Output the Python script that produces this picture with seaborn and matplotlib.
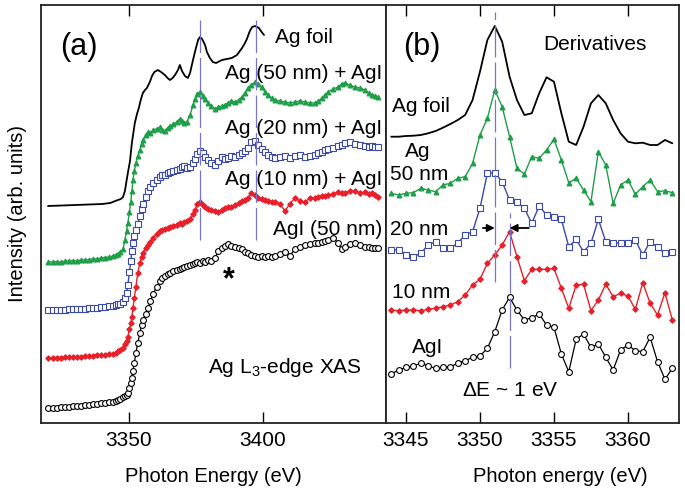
import matplotlib
matplotlib.use('Agg')
import matplotlib.pyplot as plt
import seaborn as sns

# ---------------- panel (a): Ag L3-edge XAS ----------------
# shared energy grid of the scanned samples (eV)
e_a = [3319.8, 3321.5, 3323.0, 3324.5, 3326.0, 3327.5, 3329.0, 3330.5, 3332.0, 3333.5,
       3335.0, 3336.5, 3338.0, 3339.5, 3341.0, 3342.5, 3344.0, 3345.0, 3345.9, 3346.8,
       3347.8, 3348.5, 3349.1, 3349.6, 3350.2, 3350.7, 3351.1, 3351.5, 3352.0, 3352.6,
       3353.3, 3354.1, 3354.7, 3355.2, 3356.2, 3357.1, 3358.0, 3359.0, 3360.3, 3361.6,
       3362.5, 3363.4, 3364.4, 3365.3, 3366.6, 3367.9, 3368.9, 3369.8, 3370.7, 3371.6,
       3372.8, 3373.9, 3374.7, 3375.4, 3376.5, 3377.6, 3378.5, 3379.5, 3380.8, 3382.1,
       3383.4, 3384.7, 3385.8, 3386.9, 3388.2, 3389.6, 3390.9, 3392.2, 3393.3, 3394.4,
       3395.7, 3397.0, 3398.3, 3399.6, 3400.7, 3401.9, 3403.2, 3404.5, 3406.3, 3408.2,
       3410.0, 3411.9, 3413.8, 3415.7, 3417.5, 3419.4, 3420.7, 3422.0, 3423.1, 3424.3,
       3426.2, 3428.0, 3429.3, 3430.6, 3432.4, 3434.3, 3436.2, 3438.1, 3439.4, 3440.7,
       3441.8, 3442.9]

ag50 = [161, 161, 161.5, 161, 162, 162, 162.5, 162, 163, 163,
        163.5, 164, 164, 165, 165.5, 166, 167, 168, 169, 171,
        174, 183, 192, 200, 211, 221, 232, 243, 252, 260,
        267, 273, 279, 283, 288, 291, 290, 293, 294, 296,
        293, 292, 295, 297, 299, 301, 304, 302, 300, 301,
        308, 318, 324, 329, 331, 327, 324, 320, 317, 314,
        316, 317, 318, 320, 322, 321, 323, 326, 330, 335,
        338, 341, 339, 336, 331, 328, 325, 323, 322, 321,
        320, 321, 322, 321, 320, 320, 322, 325, 328, 331,
        334, 336, 339, 340, 338, 336, 335, 333, 330, 328,
        327, 326]

ag20 = [113, 113, 113, 113.5, 113.5, 114, 114, 114, 114.5, 114.5,
        115, 115, 115.5, 116, 116.5, 117, 117, 118, 119, 119.5,
        121, 125, 130, 138, 151, 162, 172, 180, 187, 193,
        199, 207, 214, 219, 226, 232, 236, 240, 243, 246,
        248, 248, 250, 251, 252, 253, 254, 256, 257, 255,
        256, 260, 264, 269, 272, 270, 266, 263, 260, 258,
        262, 266, 264, 265, 267, 266, 268, 270, 272, 275,
        281, 282, 278, 274, 271, 268, 266, 265, 266, 267,
        265, 267, 268, 266, 267, 268, 270, 271, 273, 274,
        275, 277, 278, 280, 281, 279, 278, 277, 276, 277,
        276, 276]

ag10 = [65, 65, 65.5, 65.5, 66, 66, 66, 66.5, 66.5, 67,
        67, 67.5, 68, 68, 68.5, 69, 69.5, 70.5, 72, 73,
        75, 79, 82, 86, 94, 100, 106, 115, 125, 136,
        150, 160, 166, 170, 175, 178, 181, 185, 189, 192,
        193, 194, 195, 196, 197, 198, 200, 199, 201, 202,
        204, 209, 213, 219, 221, 218, 216, 214, 213, 212,
        211, 213, 215, 216, 216, 218, 220, 222, 223, 225,
        230, 228, 225, 224, 223, 222, 221, 221, 219, 212,
        219, 225, 222, 221, 225, 225, 226, 227, 227, 228,
        229, 231, 230, 230, 232, 232, 230, 231, 229, 230,
        228, 226]

agi = [15, 15, 15.5, 16, 16, 16.5, 17, 17, 17.5, 18,
       18.5, 19, 19.5, 20, 20.5, 21, 21.5, 22, 23, 24,
       26, 27, 28, 30, 35, 40, 45, 52, 60, 70,
       80, 90, 98, 103, 109, 115, 122, 129, 136, 142,
       145, 147, 149, 150, 152, 153, 154, 155, 156, 157,
       158, 159, 160, 161, 160, 162, 161, 163, 162, 165,
       172, 175, 177, 179, 177, 176, 175, 174, 171, 170,
       168, 167, 166, 167, 166, 167, 166, 167, 169, 171,
       167, 174, 176, 178, 179, 180, 180, 181, 182, 183,
       185, 180, 174, 176, 179, 180, 178, 176, 176, 175,
       175, 175]

e_foil = [3319.8, 3325.0, 3330.0, 3335.0, 3340.0, 3343.0, 3345.9, 3347.0, 3347.8, 3348.5,
          3349.1, 3349.6, 3350.4, 3351.1, 3352.2, 3353.0, 3353.7, 3354.4, 3355.2, 3356.0,
          3356.7, 3357.8, 3358.6, 3359.5, 3360.8, 3362.0, 3363.4, 3364.4, 3365.3, 3366.3,
          3367.2, 3368.3, 3369.0, 3369.8, 3370.9, 3372.0, 3372.8, 3373.9, 3375.0, 3375.8,
          3376.5, 3377.3, 3378.4, 3379.1, 3380.2, 3381.3, 3382.5, 3384.7, 3386.5, 3388.4,
          3390.3, 3392.2, 3393.3, 3394.0, 3395.1, 3396.0, 3397.0, 3397.8, 3398.5, 3399.5,
          3400.4]
foil_a = [217, 217.5, 218, 218.5, 219, 220, 223, 224, 226, 232,
          242, 250, 262, 280, 300, 309, 315, 323, 330, 333,
          335, 341, 347, 351, 353, 351, 348, 345, 343, 345,
          348, 353, 358, 352, 347, 345, 350, 363, 375, 383,
          386, 384, 378, 371, 365, 361, 360, 363, 364, 365,
          368, 375, 380, 384, 392, 396, 397, 396, 395, 391,
          388]

# ---------------- panel (b): derivatives ----------------
e_b = [3344.0, 3344.5, 3345.0, 3345.5, 3346.0, 3346.5, 3347.0, 3347.5, 3348.0, 3348.5,
       3349.0, 3349.5, 3350.0, 3350.5, 3351.0, 3351.5, 3352.0, 3352.5, 3353.0, 3353.5,
       3354.0, 3354.5, 3355.0, 3355.5, 3356.0, 3356.5, 3357.0, 3357.5, 3358.0, 3358.5,
       3359.0, 3359.5, 3360.0, 3360.5, 3361.0, 3361.5, 3362.0, 3362.5, 3363.0]

d_foil = [286.3, 286.3, 287, 287.3, 288, 289.7, 292, 295.3, 299, 303,
          308, 323, 351.3, 383, 397, 381.3, 346.3, 323, 308, 309.7,
          329.7, 345.7, 341.3, 309.7, 281.3, 278, 296.3, 319.7, 328, 319.7,
          303, 289.7, 281.3, 279.7, 280.3, 278, 278, 283, 279.7]
d_ag50 = [229.7, 228, 229.7, 230.3, 234.7, 233, 231.3, 238, 239.7, 244.7,
          246.3, 259.7, 288, 304.7, 333, 316.3, 286.3, 254.7, 249, 266.3,
          264.7, 273, 283.7, 263, 240.3, 244.7, 233, 221.3, 271.3, 258,
          219.7, 238, 243, 228.7, 236.3, 243, 231.3, 232.3, 230.3]
d_ag20 = [173, 173, 168, 166.3, 169.7, 178, 181.3, 175, 174.7, 180,
          188, 191.3, 214.7, 249.7, 250.3, 241.3, 223, 221.3, 214.7, 199.7,
          217, 208, 206.3, 203.7, 176.3, 183.7, 171.3, 179.7, 203.7, 181.3,
          180.3, 179.7, 180.3, 183, 168, 181.3, 175.7, 169.7, 171.3]
d_ag10 = [113, 112.3, 113, 113, 112.3, 113.7, 114.7, 116.3, 118, 121.3,
          128, 138, 143.7, 159.7, 168, 178, 191.3, 166.3, 142.3, 153.7,
          153.7, 153.7, 154.7, 134.7, 114.7, 138, 138.7, 112.3, 123, 138.7,
          126.3, 129.7, 127, 113.7, 140.3, 119.7, 108, 130.3, 103]
d_agi = [49, 53, 55.7, 57, 59.7, 57, 54.7, 55.7, 56.3, 59.7,
         62.3, 65.7, 67, 74.7, 91.3, 113, 125.7, 113, 103, 105.3,
         109, 98, 95.7, 69, 51.3, 83.7, 89, 75.7, 79, 65.7,
         53, 73, 78, 72.3, 71.3, 85.7, 61.3, 43.7, 54.7]

# peak positions marked with dashed lines
peaks_a = [3376.7, 3397.3]
peaks_b = [3351.0, 3352.0]

GREEN = '#1f9e48'
BLUE = '#3a4aa6'
RED = '#e8202a'
VLINE = '#7a74c8'

sns.set_theme(style='white')
plt.rcParams['font.family'] = ['Liberation Sans', 'DejaVu Sans']
plt.rcParams['mathtext.fontset'] = 'custom'
plt.rcParams['mathtext.rm'] = 'Liberation Sans'
plt.rcParams['mathtext.it'] = 'Liberation Sans:italic'
plt.rcParams['text.color'] = 'black'
plt.rcParams['axes.labelcolor'] = 'black'

fig = plt.figure(figsize=(6.85, 4.94), dpi=100)
ax_a = fig.add_axes([41 / 685, 71 / 494, 345 / 685, 418 / 494])
ax_b = fig.add_axes([386 / 685, 71 / 494, 293 / 685, 418 / 494])


def draw(ax, x, y, color, marker=None, ms=4, face=None, lw=1.0):
    kw = dict(x=x, y=y, ax=ax, color=color, linewidth=lw, legend=False)
    if marker:
        kw.update(marker=marker, markersize=ms, markeredgecolor=color,
                  markerfacecolor=face if face else color, markeredgewidth=0.8)
    sns.lineplot(**kw)


# panel (a)
draw(ax_a, e_foil, foil_a, 'black', lw=1.3)
draw(ax_a, e_a, ag50, GREEN, marker='^', ms=3.5)
draw(ax_a, e_a, ag20, BLUE, marker='s', ms=4, face='white')
draw(ax_a, e_a, ag10, RED, marker='D', ms=2.8)
draw(ax_a, e_a, agi, 'black', marker='o', ms=4.2, face='white', lw=0.9)
ax_a.vlines(peaks_a, 183, 406, colors=VLINE, linewidth=0.9, linestyles=(0, (26, 4)))

# panel (b)
draw(ax_b, e_b, d_foil, 'black', lw=1.3)
draw(ax_b, e_b, d_ag50, GREEN, marker='^', ms=3.5)
draw(ax_b, e_b, d_ag20, BLUE, marker='s', ms=4, face='white')
draw(ax_b, e_b, d_ag10, RED, marker='D', ms=2.8)
draw(ax_b, e_b, d_agi, 'black', marker='o', ms=4.2, face='white', lw=0.9)
ax_b.vlines(peaks_b[0], 141, 411, colors=VLINE, linewidth=0.9, linestyles=(0, (26, 4)))
ax_b.vlines(peaks_b[1], 55, 210, colors=VLINE, linewidth=0.9, linestyles=(0, (26, 4)))
arrow = dict(arrowstyle='-|>', color='black', lw=1.3, mutation_scale=11, shrinkA=0, shrinkB=0)
ax_b.annotate('', xy=(peaks_b[0], 195), xytext=(3350.2, 195), arrowprops=arrow)
ax_b.annotate('', xy=(peaks_b[1], 195), xytext=(3353.3, 195), arrowprops=arrow)

# texts panel (a)
fs = 15
ax_a.text(3324.3, 376, '(a)', fontsize=22, ha='left', va='center')
ax_a.text(3404.5, 380, 'Ag foil', fontsize=fs, ha='left', va='baseline')
ax_a.text(3444.4, 344, 'Ag (50 nm) + AgI', fontsize=fs, ha='right', va='baseline')
ax_a.text(3444.4, 289, 'Ag (20 nm) + AgI', fontsize=fs, ha='right', va='baseline')
ax_a.text(3444.4, 238, 'Ag (10 nm) + AgI', fontsize=fs, ha='right', va='baseline')
ax_a.text(3444.4, 188, 'AgI (50 nm)', fontsize=fs, ha='right', va='baseline')
ax_a.text(3387.3, 135, '*', fontsize=22, fontweight='bold', ha='center', va='baseline')
ax_a.text(3436.9, 50, 'Ag L$_3$-edge XAS', fontsize=fs, ha='right', va='baseline')

# texts panel (b)
ax_b.text(3344.8, 376, '(b)', fontsize=22, ha='left', va='center')
ax_b.text(3354.3, 373, 'Derivatives', fontsize=fs, ha='left', va='baseline')
ax_b.text(3344.05, 311, 'Ag foil', fontsize=fs, ha='left', va='baseline')
ax_b.text(3344.9, 266, 'Ag', fontsize=fs, ha='left', va='baseline')
ax_b.text(3343.92, 243, '50 nm', fontsize=fs, ha='left', va='baseline')
ax_b.text(3343.92, 188, '20 nm', fontsize=fs, ha='left', va='baseline')
ax_b.text(3344.05, 125, '10 nm', fontsize=fs, ha='left', va='baseline')
ax_b.text(3345.4, 70, 'AgI', fontsize=fs, ha='left', va='baseline')
ax_b.text(3348.8, 27, '$\\Delta$E ~ 1 eV', fontsize=fs, ha='left', va='baseline')

# axes styling
ax_a.set_xlim(3317.2, 3445.9)
ax_b.set_xlim(3343.65, 3363.45)
for ax in (ax_a, ax_b):
    ax.set_ylim(0, 418)
    ax.set_yticks([])
    ax.set_ylabel('')
    ax.tick_params(axis='x', which='both', direction='in', top=True, bottom=True,
                   length=8, width=1.0, labelsize=15, pad=6, colors='black')
    for sp in ax.spines.values():
        sp.set_linewidth(1.3)
        sp.set_color('#222222')
ax_a.set_xticks([3350, 3400])
ax_b.set_xticks([3345, 3350, 3355, 3360])

ax_a.set_xlabel('Photon Energy (eV)', fontsize=14.5)
ax_a.xaxis.set_label_coords(0.5, -0.105)
ax_b.set_xlabel('Photon energy (eV)', fontsize=14.5)
ax_b.xaxis.set_label_coords(0.594, -0.105)
fig.text(18 / 685, 1 - 214 / 494, 'Intensity (arb. units)', rotation=90,
         ha='center', va='center', fontsize=14.5)

fig.savefig('out.png', dpi=100)
